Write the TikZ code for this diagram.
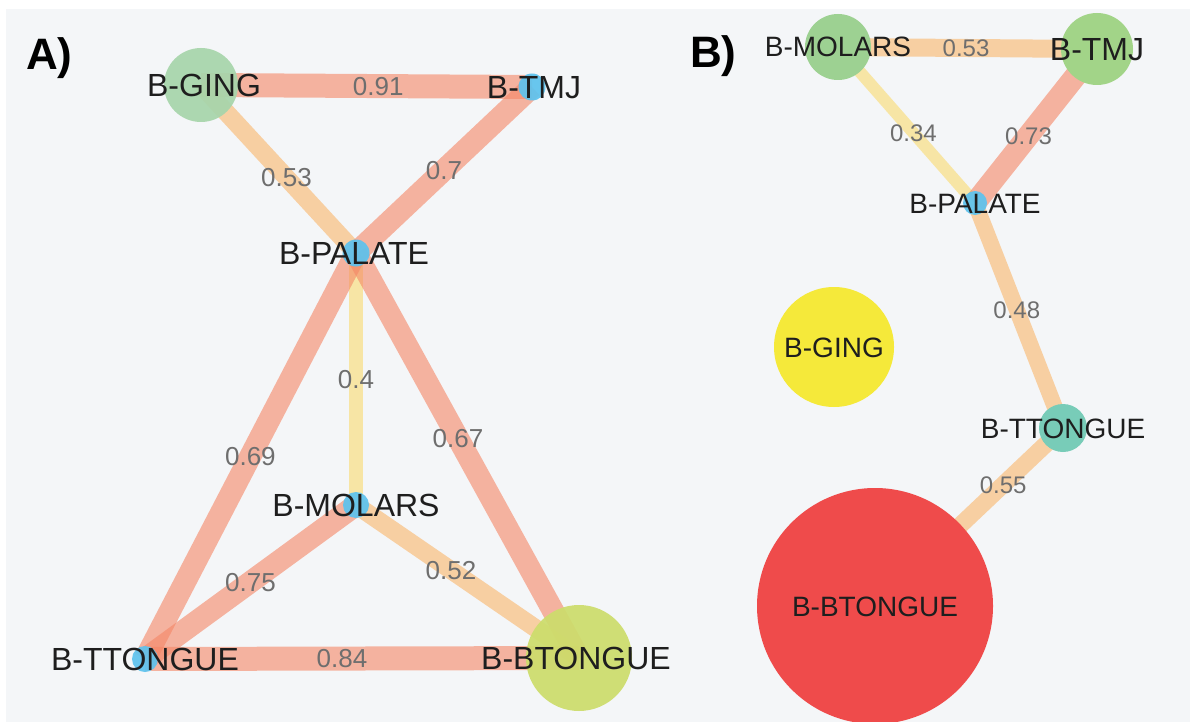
\documentclass[tikz,border=0pt]{standalone}
\usepackage{fontspec}
\setmainfont{Liberation Sans}
\pgfdeclarelayer{background}
\pgfdeclarelayer{edges}
\pgfsetlayers{background,edges,main}

% palette
\definecolor{panelbg}{HTML}{F4F6F8}
\definecolor{txt}{HTML}{1E1E1E}
\definecolor{valtxt}{HTML}{6E6E6E}
\definecolor{strong}{HTML}{F48665}
\definecolor{medium}{HTML}{FAB569}
\definecolor{weak}{HTML}{FADB6F}
\definecolor{dotblue}{HTML}{5EC3EE}
\definecolor{gingA}{HTML}{A7D5AB}
\definecolor{btongueA}{HTML}{CDDD6C}
\definecolor{molarsB}{HTML}{9DD192}
\definecolor{tmjB}{HTML}{A2D488}
\definecolor{gingB}{HTML}{F5E93A}
\definecolor{ttongueB}{HTML}{78CCB8}
\definecolor{btongueB}{HTML}{EF4B4B}

\begin{document}
\begin{tikzpicture}[x=1pt,y=-1pt,
  nd/.style={circle,inner sep=0pt,outer sep=0pt,draw=none,fill opacity=0.93},
  ndb/.style={circle,inner sep=0pt,outer sep=0pt,draw=none},
  lbl/.style={font=\fontsize{32}{36}\selectfont,text=txt,inner sep=0pt,
              text height=23pt,text depth=0pt},
  lblb/.style={font=\fontsize{28}{32}\selectfont,text=txt,inner sep=0pt,
              text height=20pt,text depth=0pt},
  val/.style={font=\fontsize{26}{30}\selectfont,text=valtxt,inner sep=0pt,
              text height=18.6pt,text depth=0pt},
  valb/.style={font=\fontsize{24}{28}\selectfont,text=valtxt,inner sep=0pt,
              text height=17.2pt,text depth=0pt},
  panel/.style={font=\fontsize{44}{48}\selectfont\bfseries,text=black,
                inner sep=0pt,anchor=base west},
  hi/.style={draw=strong,draw opacity=0.6,line width=#1},
  mid/.style={draw=medium,draw opacity=0.6,line width=#1},
  lo/.style={draw=weak,draw opacity=0.6,line width=#1}]

\useasboundingbox (0,0) rectangle (1190,722);
\begin{pgfonlayer}{background}
  \fill[white] (0,0) rectangle (1190,722);
  \fill[panelbg] (6,9) rectangle (1190,722);
\end{pgfonlayer}

% ---------------- panel A ----------------
\node[panel] (tagA) at (26,70) {A)};

\node[nd,fill=gingA,minimum size=74pt]    (aGing) at (201,85)  {};
\node[nd,fill=dotblue,minimum size=27pt]  (aTmj)  at (532,87)  {};
\node[nd,fill=dotblue,minimum size=27pt]  (aPal)  at (356,253) {};
\node[nd,fill=dotblue,minimum size=26pt]  (aMol)  at (356,505) {};
\node[nd,fill=dotblue,minimum size=26pt]  (aTT)   at (145,659) {};
\node[nd,fill=btongueA,minimum size=106pt] (aBT)  at (579,658) {};

\begin{pgfonlayer}{edges}
  \draw[hi=24pt]  (aGing.center) -- (aTmj.center);
  \draw[mid=18pt] (aGing.center) -- (aPal.center);
  \draw[hi=22pt]  (aTmj.center)  -- (aPal.center);
  \draw[lo=14pt]  (aPal.center)  -- (aMol.center);
  \draw[hi=22pt]  (aPal.center)  -- (aTT.center);
  \draw[hi=22pt]  (aPal.center)  -- (aBT.center);
  \draw[hi=22pt]  (aMol.center)  -- (aTT.center);
  \draw[mid=18pt] (aMol.center)  -- (aBT.center);
  \draw[hi=24pt]  (aTT.center)   -- (aBT.center);
\end{pgfonlayer}

\path (aGing) -- node[val] (vA1) {0.91} (aTmj);
\path (aGing) -- node[val] (vA2) {0.53} (aPal);
\path (aTmj)  -- node[val] (vA3) {0.7}  (aPal);
\path (aPal)  -- node[val] (vA4) {0.4}  (aMol);
\path (aPal)  -- node[val] (vA5) {0.69} (aTT);
\path (aPal)  -- node[val] (vA6) {0.67} (aBT);
\path (aMol)  -- node[val] (vA7) {0.75} (aTT);
\path (aMol)  -- node[val] (vA8) {0.52} (aBT);
\path (aTT)   -- node[val] (vA9) {0.84} (aBT);

\node[lbl,xshift=3pt]  (aGingL) at (aGing) {B-GING};
\node[lbl,xshift=2pt]  (aTmjL)  at (aTmj)  {B-TMJ};
\node[lbl,xshift=-2pt] (aPalL)  at (aPal)  {B-PALATE};
\node[lbl]             (aMolL)  at (aMol)  {B-MOLARS};
\node[lbl]             (aTTL)   at (aTT)   {B-TTONGUE};
\node[lbl,xshift=-3pt] (aBTL)   at (aBT)   {B-BTONGUE};

% ---------------- panel B ----------------
\node[panel] (tagB) at (690,68) {B)};

\node[ndb,fill=molarsB,minimum size=66pt]   (bMol)  at (838,47)  {};
\node[ndb,fill=tmjB,minimum size=72pt]      (bTmj)  at (1097,49) {};
\node[nd,fill=dotblue,minimum size=24pt]    (bPal)  at (975,203) {};
\node[ndb,fill=gingB,minimum size=120pt]    (bGing) at (834,347) {};
\node[ndb,fill=ttongueB,minimum size=48pt]  (bTT)   at (1063,428) {};
\node[ndb,fill=btongueB,minimum size=236pt] (bBT)   at (875,606) {};

\begin{pgfonlayer}{edges}
  \draw[mid=18pt] (bMol.center) -- (bTmj.center);
  \draw[lo=12pt]  (bMol.center) -- (bPal.center);
  \draw[hi=22pt]  (bTmj.center) -- (bPal.center);
  \draw[mid=16pt] (bPal.center) -- (bTT.center);
  \draw[mid=17pt] (bTT.center)  -- (bBT.center);
\end{pgfonlayer}

\path (bMol) -- node[valb] (vB1) {0.53} (bTmj);
\path (bMol) -- node[valb] (vB2) {0.34} (bPal);
\path (bTmj) -- node[valb] (vB3) {0.73} (bPal);
\path (bPal) -- node[valb] (vB4) {0.48} (bTT);
\path (bTT)  -- node[valb] (vB5) {0.55} (bBT);

\node[lblb]            (bMolL)  at (bMol)  {B-MOLARS};
\node[lbl]             (bTmjL)  at (bTmj)  {B-TMJ};
\node[lblb]            (bPalL)  at (bPal)  {B-PALATE};
\node[lblb]            (bGingL) at (bGing) {B-GING};
\node[lblb]            (bTTL)   at (bTT)   {B-TTONGUE};
\node[lblb]            (bBTL)   at (bBT)   {B-BTONGUE};

\end{tikzpicture}
\end{document}
